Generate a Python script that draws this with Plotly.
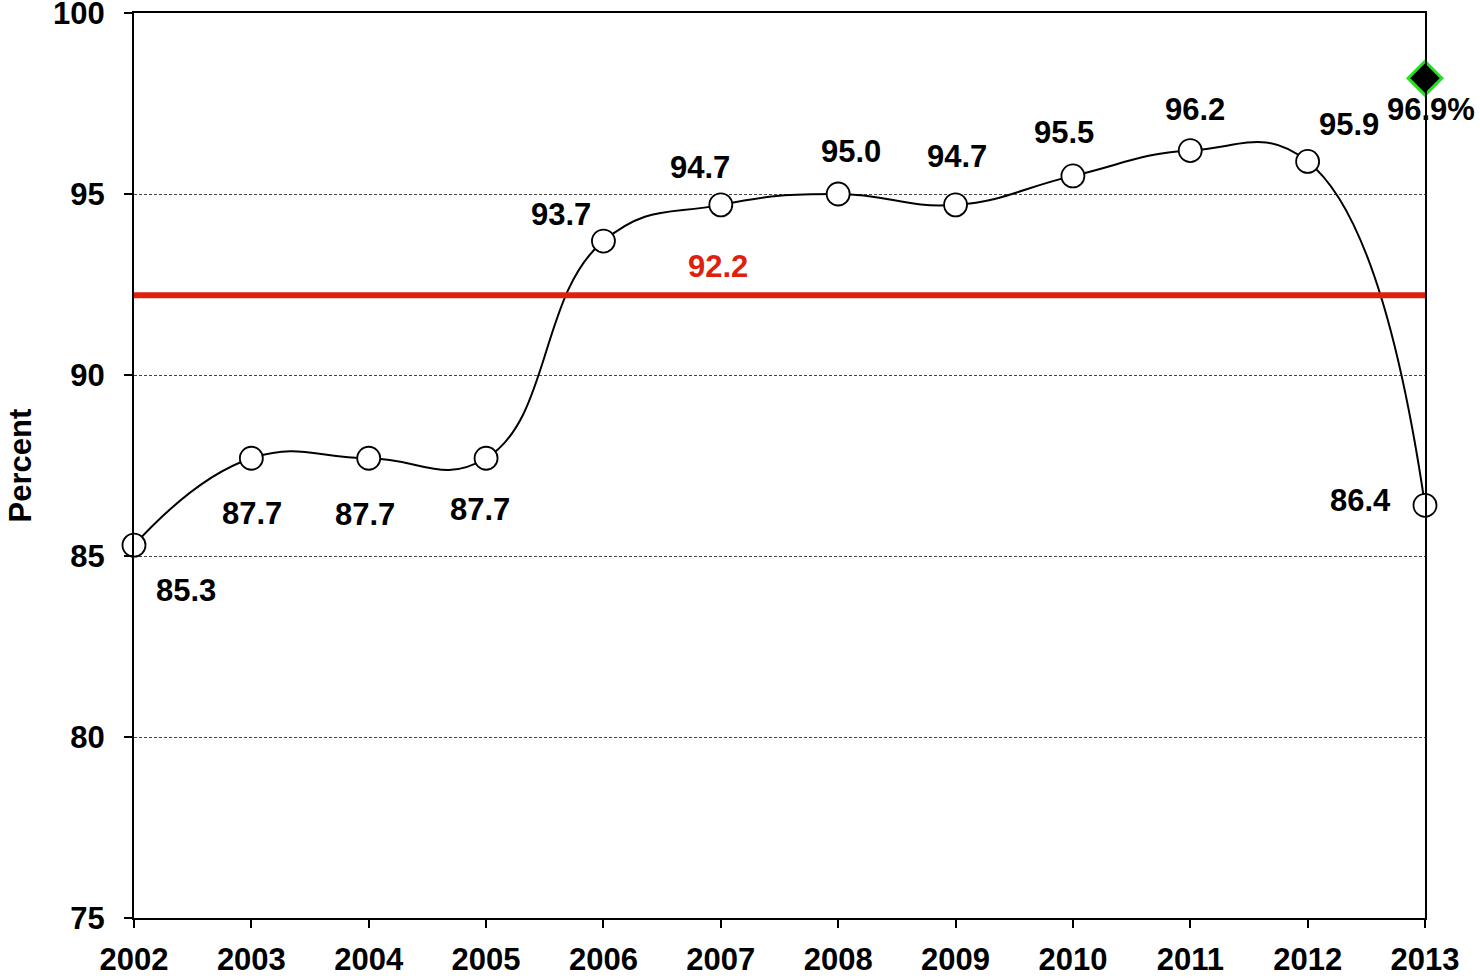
import plotly.graph_objects as go

# Data
years = [2002, 2003, 2004, 2005, 2006, 2007, 2008, 2009, 2010, 2011, 2012, 2013]
percent = [85.3, 87.7, 87.7, 87.7, 93.7, 94.7, 95.0, 94.7, 95.5, 96.2, 95.9, 86.4]
point_labels = ["85.3", "87.7", "87.7", "87.7", "93.7", "94.7", "95.0", "94.7", "95.5", "96.2", "95.9", "86.4"]

average_value = 92.2
average_label = "92.2"
average_label_year = 2007

target_year = 2013
target_value = 98.2
target_label = "96.9%"

y_ticks = [75, 80, 85, 90, 95, 100]

# pixel offsets of each point label relative to its point
label_dx = [52, 1, -4, -6, -42, -21, 13, 1, -9, 5, 41, -65]
label_dy = [-45, -55, -56, -51, 27, 37, 43, 48, 43, 41, 37, 5]

FONT = "Liberation Sans, Arial, sans-serif"
FS = 31

fig = go.Figure()

fig.add_trace(go.Scatter(
    x=years,
    y=percent,
    mode="lines+markers",
    line=dict(color="black", width=2, shape="spline", smoothing=1.3),
    marker=dict(symbol="circle", size=23, color="white", line=dict(color="black", width=1.8)),
    cliponaxis=False,
    showlegend=False,
))

fig.add_trace(go.Scatter(
    x=[target_year],
    y=[target_value],
    mode="markers",
    marker=dict(symbol="diamond", size=26, color="black", line=dict(color="#22e022", width=3)),
    cliponaxis=False,
    showlegend=False,
))

# average reference line
fig.add_shape(
    type="line", xref="x", yref="y",
    x0=years[0], x1=years[-1], y0=average_value, y1=average_value,
    line=dict(color="#e0200f", width=6),
)

annotations = []
for x, y, t, dx, dy in zip(years, percent, point_labels, label_dx, label_dy):
    annotations.append(dict(
        x=x, y=y, text="<b>" + t + "</b>", showarrow=False,
        xshift=dx, yshift=dy, font=dict(size=FS, color="black", family=FONT),
    ))
annotations.append(dict(
    x=average_label_year, y=average_value, text="<b>" + average_label + "</b>", showarrow=False,
    xshift=-3, yshift=29, font=dict(size=FS, color="#e0200f", family=FONT),
))
annotations.append(dict(
    x=target_year, y=target_value, text="<b>" + target_label + "</b>", showarrow=False,
    xshift=6, yshift=-31, font=dict(size=FS, color="black", family=FONT),
))
annotations.append(dict(
    xref="paper", yref="paper", x=0, y=0.5, xshift=-114, textangle=-90,
    xanchor="center", yanchor="middle",
    text="<b>Percent</b>", showarrow=False, font=dict(size=FS, color="black", family=FONT),
))

fig.update_layout(
    width=1480,
    height=980,
    margin=dict(l=134, r=55, t=13, b=62, autoexpand=False),
    plot_bgcolor="white",
    paper_bgcolor="white",
    font=dict(family=FONT, size=FS, color="black"),
    annotations=annotations,
    xaxis=dict(
        range=[2002, 2013],
        tickvals=years,
        ticktext=["<b>%d</b>" % y for y in years],
        showgrid=False,
        zeroline=False,
        showline=True, linecolor="black", linewidth=2, mirror=True,
        ticks="outside", ticklen=8, tickwidth=1.5, tickcolor="black",
        tickfont=dict(size=FS, family=FONT),
        ticklabeloverflow="allow", ticklabelstandoff=5,
        automargin=False,
    ),
    yaxis=dict(
        range=[75, 100],
        tickvals=y_ticks,
        ticktext=["<b>%d</b>" % v for v in y_ticks],
        showgrid=True, gridcolor="#444444", gridwidth=1, griddash="3px,2px",
        zeroline=False,
        showline=True, linecolor="black", linewidth=2, mirror=True,
        ticks="outside", ticklen=8, tickwidth=1.5, tickcolor="black",
        tickfont=dict(size=FS, family=FONT),
        ticklabeloverflow="allow", ticklabelstandoff=13,
        automargin=False,
    ),
)

# drop the default page margin so the figure fills the window exactly
fig.write_html(
    "out.html",
    config={"displayModeBar": False},
    post_script="document.body.style.margin = '0';",
)
